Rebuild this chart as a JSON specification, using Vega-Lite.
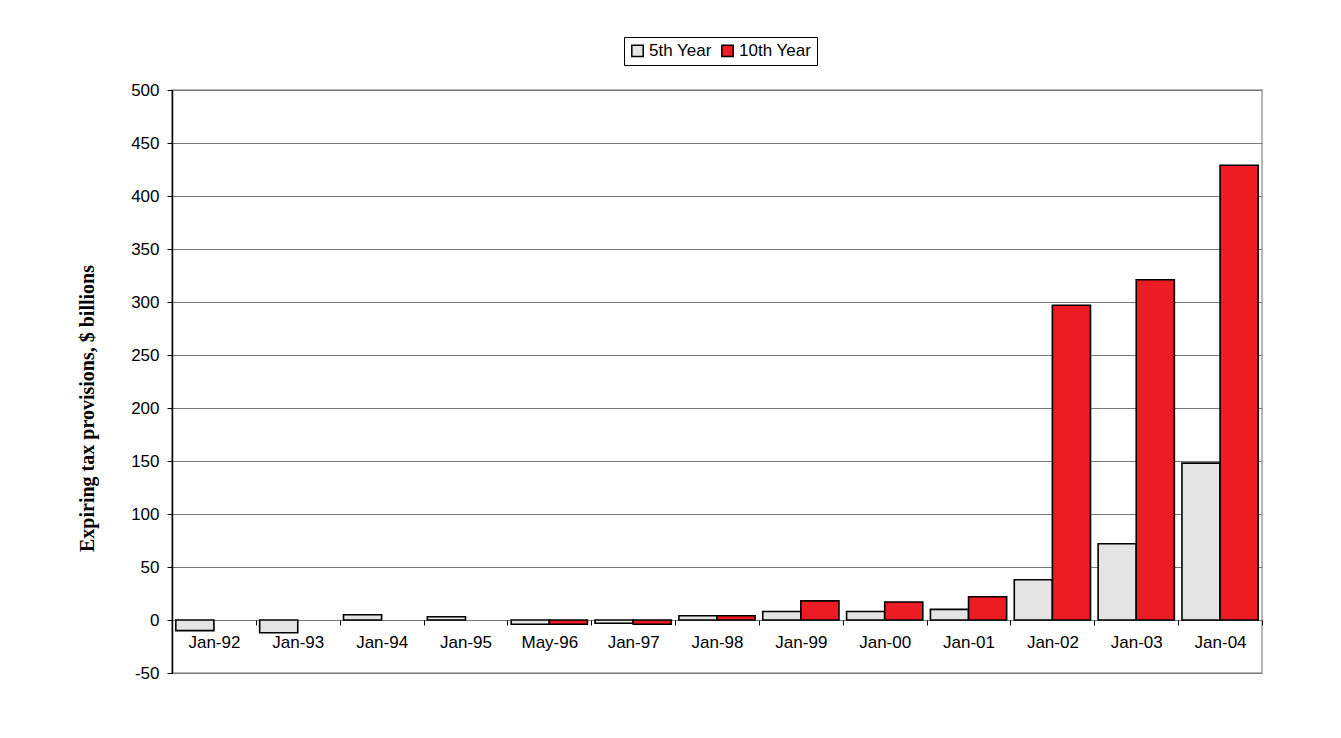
{
  "$schema": "https://vega.github.io/schema/vega-lite/v6.json",
  "width": 1090,
  "height": 583,
  "autosize": "none",
  "padding": {"left": 172, "top": 90, "right": 79, "bottom": 65},
  "background": "white",
  "config": {
    "font": "Liberation Sans",
    "view": {"stroke": "#a0a0a0", "strokeWidth": 1.5}
  },
  "data": {
    "values": [
      {"period": "Jan-92", "series": "5th Year", "value": -10},
      {"period": "Jan-93", "series": "5th Year", "value": -12},
      {"period": "Jan-94", "series": "5th Year", "value": 5},
      {"period": "Jan-95", "series": "5th Year", "value": 3},
      {"period": "May-96", "series": "5th Year", "value": -4},
      {"period": "May-96", "series": "10th Year", "value": -4},
      {"period": "Jan-97", "series": "5th Year", "value": -3},
      {"period": "Jan-97", "series": "10th Year", "value": -4},
      {"period": "Jan-98", "series": "5th Year", "value": 4},
      {"period": "Jan-98", "series": "10th Year", "value": 4},
      {"period": "Jan-99", "series": "5th Year", "value": 8},
      {"period": "Jan-99", "series": "10th Year", "value": 18},
      {"period": "Jan-00", "series": "5th Year", "value": 8},
      {"period": "Jan-00", "series": "10th Year", "value": 17},
      {"period": "Jan-01", "series": "5th Year", "value": 10},
      {"period": "Jan-01", "series": "10th Year", "value": 22},
      {"period": "Jan-02", "series": "5th Year", "value": 38},
      {"period": "Jan-02", "series": "10th Year", "value": 297},
      {"period": "Jan-03", "series": "5th Year", "value": 72},
      {"period": "Jan-03", "series": "10th Year", "value": 321},
      {"period": "Jan-04", "series": "5th Year", "value": 148},
      {"period": "Jan-04", "series": "10th Year", "value": 429}
    ]
  },
  "mark": {"type": "bar", "stroke": "black", "strokeWidth": 1.6},
  "encoding": {
    "x": {
      "field": "period",
      "type": "nominal",
      "sort": ["Jan-92", "Jan-93", "Jan-94", "Jan-95", "May-96", "Jan-97", "Jan-98", "Jan-99", "Jan-00", "Jan-01", "Jan-02", "Jan-03", "Jan-04"],
      "scale": {"paddingInner": 0, "paddingOuter": 0},
      "axis": {
        "title": null,
        "offset": -53,
        "domain": false,
        "tickBand": "extent",
        "tickColor": "black",
        "tickSize": 5,
        "tickWidth": 1,
        "labelAngle": 0,
        "labelFontSize": 17,
        "labelColor": "black",
        "labelPadding": 9,
        "grid": false
      }
    },
    "xOffset": {
      "field": "series",
      "type": "nominal",
      "sort": ["5th Year", "10th Year"],
      "scale": {"paddingInner": 0, "paddingOuter": 0.1}
    },
    "y": {
      "field": "value",
      "type": "quantitative",
      "scale": {"domain": [-50, 500], "nice": false, "zero": false},
      "axis": {
        "title": "Expiring tax provisions, $ billions",
        "titleFont": "Liberation Serif",
        "titleFontSize": 20,
        "titleFontWeight": "bold",
        "titleColor": "black",
        "titleAngle": -90,
        "titleX": -85,
        "titleY": 318,
        "titleAlign": "center",
        "titleBaseline": "middle",
        "values": [-50, 0, 50, 100, 150, 200, 250, 300, 350, 400, 450, 500],
        "labelExpr": "datum.value < 0 ? '-' + abs(datum.value) : datum.label",
        "domainColor": "black",
        "domainWidth": 1.5,
        "tickColor": "black",
        "tickSize": 5,
        "labelFontSize": 17,
        "labelColor": "black",
        "labelPadding": 8,
        "grid": true,
        "gridColor": "#7a7a7a",
        "gridWidth": 1.2
      }
    },
    "fill": {
      "field": "series",
      "type": "nominal",
      "scale": {"domain": ["5th Year", "10th Year"], "range": ["#e4e4e4", "#ed1c24"]},
      "legend": {
        "title": null,
        "orient": "none",
        "legendX": 452,
        "legendY": -53,
        "direction": "horizontal",
        "strokeColor": "black",
        "padding": 5,
        "symbolType": "square",
        "symbolSize": 130,
        "symbolStrokeColor": "black",
        "symbolStrokeWidth": 1.5,
        "labelFontSize": 17,
        "labelColor": "black",
        "labelOffset": 3,
        "columnPadding": 6
      }
    }
  }
}
